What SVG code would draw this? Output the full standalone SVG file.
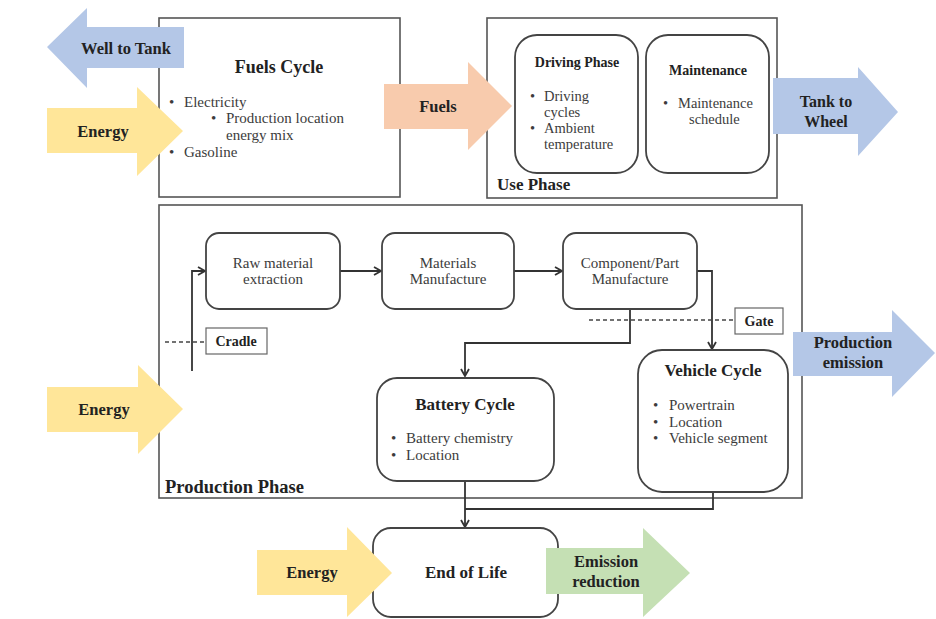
<svg xmlns="http://www.w3.org/2000/svg" width="936" height="619" viewBox="0 0 936 619">
<defs>
<style>
.box{fill:#fff;stroke:#555;stroke-width:1.6}
.rbox{fill:#fff;stroke:#444;stroke-width:1.8}
.t{font-family:"Liberation Serif","Times New Roman",serif;fill:#3c3c3c;font-size:15px}
.s{font-family:"Liberation Serif","Times New Roman",serif;fill:#3c3c3c;font-size:14.5px}
.b{font-family:"Liberation Serif","Times New Roman",serif;fill:#222;font-weight:bold}
.c{text-anchor:middle}
.line{fill:none;stroke:#333;stroke-width:1.8}
.dash{fill:none;stroke:#444;stroke-width:1.3;stroke-dasharray:4 3}
.yellow{fill:#ffe699}
.orange{fill:#f8cbad}
.blue{fill:#b4c7e7}
.green{fill:#c5e0b4}
</style>
<marker id="ah" viewBox="0 0 10 10" refX="9" refY="5" markerWidth="10" markerHeight="10" markerUnits="userSpaceOnUse" orient="auto">
<path d="M2,1 L9,5 L2,9" fill="none" stroke="#333" stroke-width="1.8"/>
</marker>
</defs>
<rect width="936" height="619" fill="#fff"/>

<g id="fuels-cycle">
<rect class="box" x="159" y="18" width="241" height="179"/>
<text class="b c" x="279" y="73" font-size="18">Fuels Cycle</text>
<text class="t" x="169" y="107">•</text><text class="t" x="184" y="107">Electricity</text>
<text class="t" x="211" y="123">•</text><text class="t" x="226" y="123">Production location</text>
<text class="t" x="226" y="140">energy mix</text>
<text class="t" x="169" y="157">•</text><text class="t" x="184" y="157">Gasoline</text>
</g>

<g id="use-phase">
<rect class="box" x="487" y="18" width="290" height="180"/>
<text class="b" x="497" y="190" font-size="17">Use Phase</text>
</g>

<g id="driving-phase">
<rect class="rbox" x="515" y="35" width="123" height="138" rx="22"/>
<text class="b c" x="577" y="67" font-size="14">Driving Phase</text>
<text class="s" x="530" y="101">•</text><text class="s" x="544" y="101">Driving</text>
<text class="s" x="544" y="117">cycles</text>
<text class="s" x="530" y="133">•</text><text class="s" x="544" y="133">Ambient</text>
<text class="s" x="544" y="149">temperature</text>
</g>

<g id="maintenance">
<rect class="rbox" x="646" y="35" width="123" height="138" rx="22"/>
<text class="b c" x="708" y="75" font-size="14">Maintenance</text>
<text class="s" x="663" y="108">•</text><text class="s" x="678" y="108">Maintenance</text>
<text class="s" x="689" y="124">schedule</text>
</g>

<g id="production-phase">
<rect class="box" x="159" y="205" width="643" height="293"/>
<text class="b" x="165" y="493" font-size="18.5">Production Phase</text>
</g>

<g id="connectors">
<path class="line" d="M192,371 V271 H205" marker-end="url(#ah)"/>
<path class="line" d="M340,271 H381" marker-end="url(#ah)"/>
<path class="line" d="M514,271 H562" marker-end="url(#ah)"/>
<path class="line" d="M630,309 V343 H465 V376" marker-end="url(#ah)"/>
<path class="line" d="M697,271 H712 V349" marker-end="url(#ah)"/>
<path class="line" d="M465,481 V527" marker-end="url(#ah)"/>
<path class="line" d="M713,492 V509 H465"/>
<path class="dash" d="M165,342 H206"/>
<path class="dash" d="M589,320 H735"/>
</g>

<g id="cradle">
<rect x="206" y="328" width="61" height="26" fill="#fff" stroke="#666" stroke-width="1.2"/>
<text class="b c" x="236" y="346" font-size="14">Cradle</text>
</g>

<g id="gate">
<rect x="735" y="308" width="48" height="26" fill="#fff" stroke="#666" stroke-width="1.2"/>
<text class="b c" x="759" y="326" font-size="14">Gate</text>
</g>

<g id="raw-material">
<rect class="rbox" x="206" y="233" width="134" height="76" rx="13"/>
<text class="t c" x="273" y="268">Raw material</text>
<text class="t c" x="273" y="284">extraction</text>
</g>

<g id="materials-manufacture">
<rect class="rbox" x="382" y="233" width="132" height="76" rx="13"/>
<text class="t c" x="448" y="268">Materials</text>
<text class="t c" x="448" y="284">Manufacture</text>
</g>

<g id="component-manufacture">
<rect class="rbox" x="563" y="233" width="134" height="76" rx="13"/>
<text class="t c" x="630" y="268">Component/Part</text>
<text class="t c" x="630" y="284">Manufacture</text>
</g>

<g id="battery-cycle">
<rect class="rbox" x="377" y="378" width="177" height="103" rx="20"/>
<text class="b c" x="465" y="410" font-size="17">Battery Cycle</text>
<text class="t" x="391" y="443">•</text><text class="t" x="406" y="443">Battery chemistry</text>
<text class="t" x="391" y="460">•</text><text class="t" x="406" y="460">Location</text>
</g>

<g id="vehicle-cycle">
<rect class="rbox" x="638" y="350" width="150" height="142" rx="24"/>
<text class="b c" x="713" y="376" font-size="17">Vehicle Cycle</text>
<text class="t" x="653" y="410">•</text><text class="t" x="669" y="410">Powertrain</text>
<text class="t" x="653" y="427">•</text><text class="t" x="669" y="427">Location</text>
<text class="t" x="653" y="443">•</text><text class="t" x="669" y="443">Vehicle segment</text>
</g>

<g id="end-of-life">
<rect class="rbox" x="373" y="528" width="185" height="89" rx="18"/>
<text class="b c" x="466" y="578" font-size="17">End of Life</text>
</g>

<g id="well-to-tank">
<polygon class="blue" points="184,27 87,27 87,8 47,47 87,88 87,68 184,68"/>
<text class="b c" x="126" y="54" font-size="16.5">Well to Tank</text>
</g>

<g id="energy-top">
<polygon class="yellow" points="47,108 137,108 137,87 183,131 137,176 137,153 47,153"/>
<text class="b c" x="103" y="137" font-size="16.5">Energy</text>
</g>

<g id="fuels-arrow">
<polygon class="orange" points="384,84 468,84 468,62 512,106 468,150 468,129 384,129"/>
<text class="b c" x="438" y="112" font-size="16.5">Fuels</text>
</g>

<g id="tank-to-wheel">
<polygon class="blue" points="773,78 858,78 858,67 898,112 858,156 858,134 773,134"/>
<text class="b c" x="826" y="107" font-size="16">Tank to</text>
<text class="b c" x="826" y="127" font-size="16">Wheel</text>
</g>

<g id="energy-middle">
<polygon class="yellow" points="47,387 138,387 138,365 183,409 138,454 138,432 47,432"/>
<text class="b c" x="104" y="415" font-size="16.5">Energy</text>
</g>

<g id="production-emission">
<polygon class="blue" points="793,332 892,332 892,310 935,353 892,397 892,376 793,376"/>
<text class="b c" x="853" y="348" font-size="16.5">Production</text>
<text class="b c" x="853" y="368" font-size="16.5">emission</text>
</g>

<g id="energy-bottom">
<polygon class="yellow" points="257,550 347,550 347,527 392,573 347,617 347,595 257,595"/>
<text class="b c" x="312" y="578" font-size="16.5">Energy</text>
</g>

<g id="emission-reduction">
<polygon class="green" points="546,548 643,548 643,528 690,573 643,617 643,594 546,594"/>
<text class="b c" x="606" y="567" font-size="16.5">Emission</text>
<text class="b c" x="606" y="587" font-size="16.5">reduction</text>
</g>
</svg>
